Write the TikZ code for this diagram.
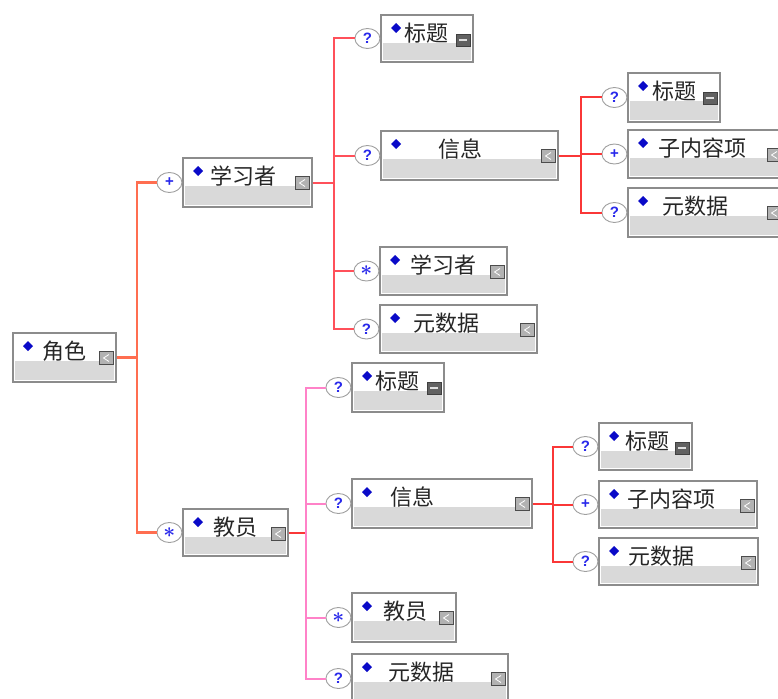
\documentclass[tikz,border=0pt]{standalone}
\usepackage{amsmath}
\usepackage{fontspec}
\newfontfamily\cjk{Noto Sans CJK SC}
\newfontfamily\opf{Liberation Sans}
\usetikzlibrary{shapes.geometric,calc}
\definecolor{boxedge}{RGB}{140,140,140}
\definecolor{boxgray}{RGB}{217,217,217}
\definecolor{dblue}{RGB}{10,10,200}
\definecolor{opblue}{RGB}{40,40,235}
\definecolor{croot}{RGB}{255,110,80}
\definecolor{ctop}{RGB}{255,80,90}
\definecolor{cred}{RGB}{250,55,55}
\definecolor{cpink}{RGB}{255,130,200}
\tikzset{
  elbox/.style={rectangle, draw=boxedge, fill=white, line width=1.2pt, inner sep=0pt},
  opnode/.style={ellipse, draw=gray!75, fill=white, line width=0.9pt, minimum width=25pt,
    minimum height=20pt, inner sep=0pt, font=\opf\bfseries\fontsize{15}{15}\selectfont, text=opblue},
  lbl/.style={anchor=west, inner sep=0pt, font=\cjk\fontsize{22}{22}\selectfont, text=black!85},
  rootline/.style={draw=croot, line width=2.2pt},
  topline/.style={draw=ctop, line width=2pt},
  redline/.style={draw=cred, line width=2pt},
  pinkline/.style={draw=cpink, line width=2pt},
}
\newcommand\astsym{{\fontsize{22}{22}\selectfont$\boldsymbol{\ast}$}}
% #1 name, #2 left, #3 top, #4 right, #5 bottom, #6 text x, #7 text, #8 icon type (t = title, n = normal)
\newcommand\elem[8]{%
  \node[elbox, minimum width={#4-#2}, minimum height={#5-#3}] (#1) at ({(#2+#4)/2},{(#3+#5)/2}) {};
  \fill[boxgray] ({#2+2},{#3+28}) rectangle ({#4-2},{#5-2});
  \fill[dblue] ({#2+10},{#3+13}) -- ({#2+15},{#3+8}) -- ({#2+20},{#3+13}) -- ({#2+15},{#3+18}) -- cycle;
  \node[lbl] (#1t) at (#6,{#3+18}) {#7};
  \pgfmathsetmacro\icx{#4-10}\pgfmathsetmacro\icy{#3+25}%
  \ifx t#8
    \draw[black!75, fill=black!62, line width=0.6pt] ({\icx-7},{\icy-6}) rectangle ({\icx+7},{\icy+6});
    \draw[gray!25, line width=1.1pt] ({\icx-4},{\icy}) -- ({\icx+4},{\icy});
  \else
    \draw[black!70, fill=gray!60, line width=0.6pt] ({\icx-7},{\icy-6.5}) rectangle ({\icx+7},{\icy+6.5});
    \draw[white, line width=0.8pt] ({\icx+3},{\icy-3.5}) -- ({\icx-2.5},{\icy}) -- ({\icx+3},{\icy+3.5});
  \fi
}
\newcommand\opn[2]{\node[opnode, anchor=east] (#1o) at (#1.west) {#2};}
\begin{document}
\begin{tikzpicture}[x=1pt,y=-1pt]
\clip (0,0) rectangle (778,698);
\fill[white] (0,0) rectangle (778,698);
% boxes
\elem{root}{13}{333}{116}{382}{42}{角色}{n}
\elem{La}{183}{158}{312}{207}{210}{学习者}{n}
\elem{Ta}{381}{15}{473}{62}{404}{标题}{t}
\elem{Tb}{381}{131}{558}{180}{438}{信息}{n}
\elem{Tc}{380}{247}{507}{295}{410}{学习者}{n}
\elem{Td}{380}{305}{537}{353}{413}{元数据}{n}
\elem{Ra}{628}{73}{720}{122}{652}{标题}{t}
\elem{Rb}{628}{130}{784}{178}{658}{子内容项}{n}
\elem{Rc}{628}{188}{784}{237}{662}{元数据}{n}
\elem{Lb}{183}{509}{288}{556}{213}{教员}{n}
\elem{Ba}{352}{363}{444}{412}{375}{标题}{t}
\elem{Bb}{352}{479}{532}{528}{390}{信息}{n}
\elem{Bc}{352}{593}{456}{642}{383}{教员}{n}
\elem{Bd}{352}{654}{508}{703}{388}{元数据}{n}
\elem{Sa}{599}{423}{692}{470}{625}{标题}{t}
\elem{Sb}{599}{481}{757}{528}{627}{子内容项}{n}
\elem{Sc}{599}{538}{758}{585}{628}{元数据}{n}
% operators
\opn{La}{+}
\opn{Lb}{\astsym}
\opn{Ta}{?}
\opn{Tb}{?}
\opn{Tc}{\astsym}
\opn{Td}{?}
\opn{Ra}{?}
\opn{Rb}{+}
\opn{Rc}{?}
\opn{Ba}{?}
\opn{Bb}{?}
\opn{Bc}{\astsym}
\opn{Bd}{?}
\opn{Sa}{?}
\opn{Sb}{+}
\opn{Sc}{?}
% connectors
\draw[rootline] (root.east) -- ++(20,0) coordinate (b0);
\draw[rootline] (Lao.west) -| (b0) |- (Lbo.west);
\draw[topline] (La.east) -- ++(21,0) coordinate (b1);
\draw[topline] (Tao.west) -| (b1) |- (Tdo.west);
\draw[topline] (Tbo.west -| b1) -- (Tbo.west);
\draw[topline] (Tco.west -| b1) -- (Tco.west);
\draw[redline] (Tb.east) -- ++(22,0) coordinate (b2);
\draw[redline] (Rao.west) -| (b2) |- (Rco.west);
\draw[redline] (Rbo.west -| b2) -- (Rbo.west);
\draw[redline] (Lb.east) -- ++(17,0) coordinate (b3);
\draw[pinkline] (Bao.west) -| (b3) |- (Bdo.west);
\draw[pinkline] (Bbo.west -| b3) -- (Bbo.west);
\draw[pinkline] (Bco.west -| b3) -- (Bco.west);
\draw[redline] (Bb.east) -- ++(20,0) coordinate (b4);
\draw[redline] (Sao.west) -| (b4) |- (Sco.west);
\draw[redline] (Sbo.west -| b4) -- (Sbo.west);
\end{tikzpicture}
\end{document}
